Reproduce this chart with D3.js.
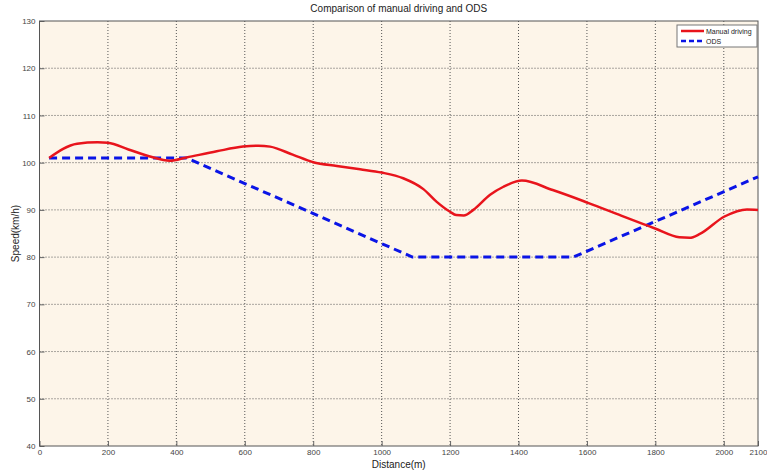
<!DOCTYPE html>
<html>
<head>
<meta charset="utf-8">
<script src="https://cdn.jsdelivr.net/npm/d3@7"></script>
<style>
  body { margin: 0; background: #fff; }
  svg { display: block; font-family: "Liberation Sans", Arial, sans-serif; }
</style>
</head>
<body>
<svg id="chart" width="767" height="470"></svg>
<script>
// manual driving speed profile
const manualDist = [28, 110, 170, 200, 260, 323, 381, 430, 518, 595, 640, 674, 740, 800, 869, 937, 1000, 1063, 1122, 1161, 1200, 1218, 1240, 1268, 1317, 1356, 1410, 1500, 1603, 1700, 1765, 1801, 1870, 1900, 1930, 2002, 2068, 2100];
const manualSpeed = [101, 104, 104.3, 104.2, 102.8, 101.3, 100.4, 101.1, 102.4, 103.4, 103.6, 103.4, 101.7, 100.1, 99.3, 98.6, 97.9, 96.7, 94.4, 91.7, 89.6, 88.9, 88.8, 90.0, 93.2, 94.9, 96.2, 94.2, 91.5, 88.8, 87.0, 86.0, 84.2, 84.1, 84.9, 88.6, 90.1, 90.0];

// ODS speed profile
const odsDist = [28, 430, 1090, 1560, 2100];
const odsSpeed = [101, 101, 80, 80, 97];

const xTicks = [0, 200, 400, 600, 800, 1000, 1200, 1400, 1600, 1800, 2000, 2100];
const yTicks = [40, 50, 60, 70, 80, 90, 100, 110, 120, 130];

const svg = d3.select("#chart");
const pLeft = 39.5, pRight = 758, pTop = 21, pBottom = 446;

const x = d3.scaleLinear().domain([0, 2100]).range([pLeft, pRight]);
const y = d3.scaleLinear().domain([40, 130]).range([pBottom, pTop]);

// plot background
svg.append("rect")
  .attr("x", pLeft).attr("y", pTop)
  .attr("width", pRight - pLeft).attr("height", pBottom - pTop)
  .attr("fill", "#fdf5e9");

// grid
svg.append("g").selectAll("line")
  .data(xTicks.slice(1, -1))
  .enter().append("line")
  .attr("x1", d => x(d)).attr("x2", d => x(d))
  .attr("y1", pTop).attr("y2", pBottom)
  .attr("stroke", "#555").attr("stroke-width", 1)
  .attr("stroke-dasharray", "1,2");
svg.append("g").selectAll("line")
  .data(yTicks.slice(1, -1))
  .enter().append("line")
  .attr("x1", pLeft).attr("x2", pRight)
  .attr("y1", d => y(d)).attr("y2", d => y(d))
  .attr("stroke", "#555").attr("stroke-width", 1)
  .attr("stroke-dasharray", "1,2");

// axes (ticks inside, MATLAB style)
const xaxis = svg.append("g")
  .attr("transform", "translate(0," + pBottom + ")")
  .call(d3.axisBottom(x).tickValues(xTicks).tickSizeInner(-5).tickSizeOuter(0).tickPadding(3).tickFormat(d3.format("d")));
const yaxis = svg.append("g")
  .attr("transform", "translate(" + pLeft + ",0)")
  .call(d3.axisLeft(y).tickValues(yTicks).tickSizeInner(-5).tickSizeOuter(0).tickPadding(4));
[xaxis, yaxis].forEach(a => {
  a.select(".domain").remove();
  a.selectAll("line").attr("stroke", "#666");
  a.selectAll("text").attr("fill", "#444").style("font-size", "8px");
});

// box
svg.append("rect")
  .attr("x", pLeft).attr("y", pTop)
  .attr("width", pRight - pLeft).attr("height", pBottom - pTop)
  .attr("fill", "none").attr("stroke", "#555").attr("stroke-width", 1);

// lines
const manual = manualDist.map((d, i) => [d, manualSpeed[i]]);
const ods = odsDist.map((d, i) => [d, odsSpeed[i]]);

svg.append("path")
  .datum(ods)
  .attr("fill", "none")
  .attr("stroke", "#0a14e6")
  .attr("stroke-width", 3)
  .attr("stroke-dasharray", "8,5")
  .attr("d", d3.line().x(d => x(d[0])).y(d => y(d[1])));

svg.append("path")
  .datum(manual)
  .attr("fill", "none")
  .attr("stroke", "#e8141c")
  .attr("stroke-width", 2.5)
  .attr("d", d3.line().curve(d3.curveMonotoneX).x(d => x(d[0])).y(d => y(d[1])));

// titles
svg.append("text")
  .attr("x", (pLeft + pRight) / 2).attr("y", 12)
  .attr("text-anchor", "middle")
  .style("font-size", "10px").attr("fill", "#222")
  .text("Comparison of manual driving and ODS");
svg.append("text")
  .attr("x", (pLeft + pRight) / 2).attr("y", 468)
  .attr("text-anchor", "middle")
  .style("font-size", "10px").attr("fill", "#222")
  .text("Distance(m)");
svg.append("text")
  .attr("transform", "rotate(-90)")
  .attr("x", -(pTop + pBottom) / 2).attr("y", 19)
  .attr("text-anchor", "middle")
  .style("font-size", "10px").attr("fill", "#222")
  .text("Speed(km/h)");

// legend
const lg = svg.append("g").attr("transform", "translate(677,25)");
lg.append("rect").attr("width", 80).attr("height", 22)
  .attr("fill", "#fff").attr("stroke", "#777");
lg.append("line").attr("x1", 4).attr("x2", 27).attr("y1", 6).attr("y2", 6)
  .attr("stroke", "#e8141c").attr("stroke-width", 2.5);
lg.append("line").attr("x1", 4).attr("x2", 27).attr("y1", 16).attr("y2", 16)
  .attr("stroke", "#0a14e6").attr("stroke-width", 2.5).attr("stroke-dasharray", "5,3");
lg.append("text").attr("x", 29).attr("y", 8.5)
  .style("font-size", "7px").attr("fill", "#222").text("Manual driving");
lg.append("text").attr("x", 29).attr("y", 18.5)
  .style("font-size", "7px").attr("fill", "#222").text("ODS");
</script>
</body>
</html>
